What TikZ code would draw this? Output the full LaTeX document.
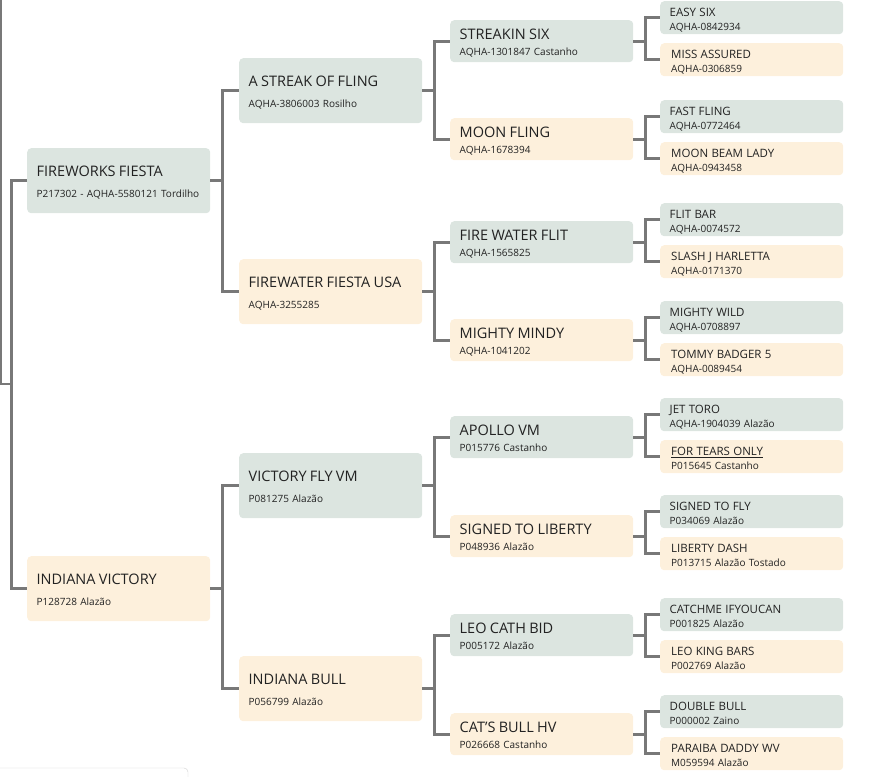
\documentclass[tikz,border=0pt]{standalone}
\usepackage{fontspec}
\setmainfont{Open Sans}
\definecolor{sirefill}{HTML}{DCE5E0}
\definecolor{damfill}{HTML}{FDF0DC}
\definecolor{linkgray}{HTML}{787878}
\definecolor{ink}{HTML}{222222}
\newcommand\bigname[1]{{\fontsize{14.5}{20}\selectfont #1}}
\newcommand\smallname[1]{{\fontsize{11.5}{13}\selectfont #1}}

\begin{document}
\begin{tikzpicture}[x=1pt,y=-1pt,
        box/.style={anchor=north west, inner xsep=9.5pt, inner ysep=0pt, text width=164pt,
            align=left, rounded corners=4pt, text=ink},
        sire/.style={box, fill=sirefill},
        dam/.style={box, fill=damfill},
        genA/.style={text height=28.5pt, text depth=36.5pt, font=\fontsize{10}{20.5}\selectfont},
        genB/.style={text height=19.3pt, text depth=22.7pt, font=\fontsize{10}{15.7}\selectfont},
        genC/.style={text height=15.5pt, text depth=17.5pt, font=\fontsize{10}{13.4}\selectfont},
        damC/.style={dam, genC, inner xsep=11pt, text width=161pt},
        link/.style={draw=linkgray, line width=2.6pt}]

        \useasboundingbox (0,0) rectangle (895,777);

        % first generation
        \node[sire, genA] (ff) at (27,148) {\bigname{FIREWORKS FIESTA}\\P217302 - AQHA-5580121 Tordilho};
        \node[dam, genA] (iv) at (27,556) {\bigname{INDIANA VICTORY}\\P128728 Alazão};

        % second generation
        \node[sire, genA] (asof) at (239,58) {\bigname{A STREAK OF FLING}\\AQHA-3806003 Rosilho};
        \node[dam, genA] (fwfu) at (239,259) {\bigname{FIREWATER FIESTA USA}\\AQHA-3255285};
        \node[sire, genA] (vfvm) at (239,453) {\bigname{VICTORY FLY VM}\\P081275 Alazão};
        \node[dam, genA] (ib) at (239,656) {\bigname{INDIANA BULL}\\P056799 Alazão};

        % third generation
        \node[sire, genB] (ss) at (450,20) {\bigname{STREAKIN SIX}\\AQHA-1301847 Castanho};
        \node[dam, genB] (mf) at (450,118) {\bigname{MOON FLING}\\AQHA-1678394};
        \node[sire, genB] (fwf) at (450,221) {\bigname{FIRE WATER FLIT}\\AQHA-1565825};
        \node[dam, genB] (mm) at (450,319) {\bigname{MIGHTY MINDY}\\AQHA-1041202};
        \node[sire, genB] (avm) at (450,416) {\bigname{APOLLO VM}\\P015776 Castanho};
        \node[dam, genB] (stl) at (450,515) {\bigname{SIGNED TO LIBERTY}\\P048936 Alazão};
        \node[sire, genB] (lcb) at (450,614) {\bigname{LEO CATH BID}\\P005172 Alazão};
        \node[dam, genB] (cbh) at (450,713) {\bigname{CAT'S BULL HV}\\P026668 Castanho};

        % fourth generation
        \node[sire, genC] (es) at (660,1) {\smallname{EASY SIX}\\AQHA-0842934};
        \node[damC] (mas) at (660,43) {\smallname{MISS ASSURED}\\AQHA-0306859};
        \node[sire, genC] (fst) at (660,100) {\smallname{FAST FLING}\\AQHA-0772464};
        \node[damC] (mbl) at (660,142) {\smallname{MOON BEAM LADY}\\AQHA-0943458};
        \node[sire, genC] (fb) at (660,203) {\smallname{FLIT BAR}\\AQHA-0074572};
        \node[damC] (sjh) at (660,245) {\smallname{SLASH J HARLETTA}\\AQHA-0171370};
        \node[sire, genC] (mw) at (660,301) {\smallname{MIGHTY WILD}\\AQHA-0708897};
        \node[damC] (tb) at (660,343) {\smallname{TOMMY BADGER 5}\\AQHA-0089454};
        \node[sire, genC] (jt) at (660,398) {\smallname{JET TORO}\\AQHA-1904039 Alazão};
        \node[damC] (fto) at (660,440) {\smallname{\underline{FOR TEARS ONLY}}\\P015645 Castanho};
        \node[sire, genC] (stf) at (660,495) {\smallname{SIGNED TO FLY}\\P034069 Alazão};
        \node[damC] (ld) at (660,537) {\smallname{LIBERTY DASH}\\P013715 Alazão Tostado};
        \node[sire, genC] (cif) at (660,598) {\smallname{CATCHME IFYOUCAN}\\P001825 Alazão};
        \node[damC] (lkb) at (660,640) {\smallname{LEO KING BARS}\\P002769 Alazão};
        \node[sire, genC] (db) at (660,695) {\smallname{DOUBLE BULL}\\P000002 Zaino};
        \node[damC] (pdw) at (660,737) {\smallname{PARAIBA DADDY WV}\\M059594 Alazão};

        % connectors
        \coordinate (top) at (1,-3);
        \coordinate (fork) at (11.5,384);
        \draw[link] (top) |- (fork);
        \draw[link] (ff.west) -| (fork) |- (iv.west);

        \draw[link] (ff.east) -- ++(12,0) |- (asof.west); \draw[link] (ff.east) -- ++(12,0) |- (fwfu.west);
        \draw[link] (iv.east) -- ++(12,0) |- (vfvm.west); \draw[link] (iv.east) -- ++(12,0) |- (ib.west);

        \draw[link] (asof.east) -- ++(12,0) |- (ss.west); \draw[link] (asof.east) -- ++(12,0) |- (mf.west);
        \draw[link] (fwfu.east) -- ++(12,0) |- (fwf.west); \draw[link] (fwfu.east) -- ++(12,0) |- (mm.west);
        \draw[link] (vfvm.east) -- ++(12,0) |- (avm.west); \draw[link] (vfvm.east) -- ++(12,0) |- (stl.west);
        \draw[link] (ib.east) -- ++(12,0) |- (lcb.west); \draw[link] (ib.east) -- ++(12,0) |- (cbh.west);

        \draw[link] (ss.east) -- ++(12,0) |- (es.west); \draw[link] (ss.east) -- ++(12,0) |- (mas.west);
        \draw[link] (mf.east) -- ++(12,0) |- (fst.west); \draw[link] (mf.east) -- ++(12,0) |- (mbl.west);
        \draw[link] (fwf.east) -- ++(12,0) |- (fb.west); \draw[link] (fwf.east) -- ++(12,0) |- (sjh.west);
        \draw[link] (mm.east) -- ++(12,0) |- (mw.west); \draw[link] (mm.east) -- ++(12,0) |- (tb.west);
        \draw[link] (avm.east) -- ++(12,0) |- (jt.west); \draw[link] (avm.east) -- ++(12,0) |- (fto.west);
        \draw[link] (stl.east) -- ++(12,0) |- (stf.west); \draw[link] (stl.east) -- ++(12,0) |- (ld.west);
        \draw[link] (lcb.east) -- ++(12,0) |- (cif.west); \draw[link] (lcb.east) -- ++(12,0) |- (lkb.west);
        \draw[link] (cbh.east) -- ++(12,0) |- (db.west); \draw[link] (cbh.east) -- ++(12,0) |- (pdw.west);

        % status bar at the bottom edge
        \draw[draw=black!18, fill=white, rounded corners=4pt] (-6,768) rectangle (188,790);

    \end{tikzpicture}
\end{document}
